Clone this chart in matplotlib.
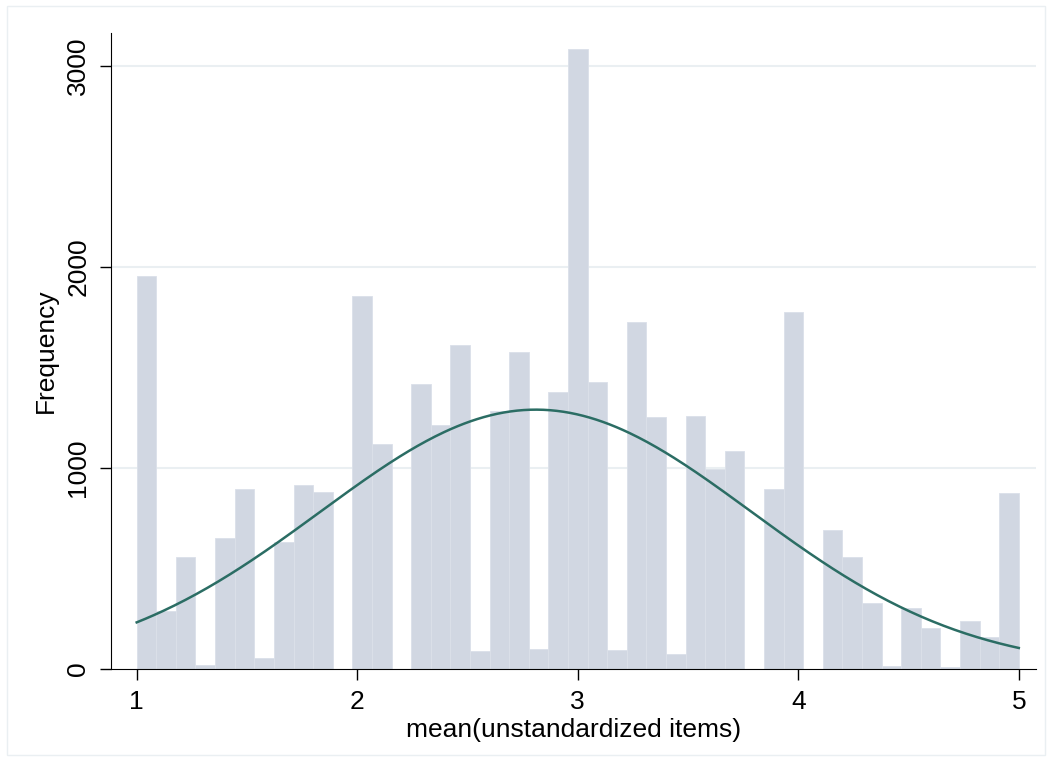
import matplotlib.pyplot as plt
import matplotlib.patches as mpatches
import numpy as np

plt.rcParams['font.family'] = ['Liberation Sans', 'DejaVu Sans']

# ------- histogram data (45 bins from 1 to 5) -------
bin_start = 1.0
bin_end = 5.0
n_bins = 45
counts = [1955, 291, 559, 19, 654, 893, 54, 631, 916, 882,
          0, 1856, 1121, 0, 1418, 1215, 1611, 90, 1282, 1578,
          98, 1376, 3084, 1427, 96, 1726, 1253, 73, 1257, 997,
          1087, 0, 897, 1775, 0, 693, 559, 327, 13, 302,
          203, 8, 241, 157, 874]

# fitted normal curve
mean_val = 2.81
sd_val = 0.977

y_ticks = [0, 1000, 2000, 3000]
x_ticks = [1, 2, 3, 4, 5]

bar_color = "#d1d7e2"
line_color = "#2b6d64"
grid_color = "#eaeff2"

edges = np.linspace(bin_start, bin_end, n_bins + 1)
width = edges[1] - edges[0]
total = sum(counts)

fig = plt.figure(figsize=(10.52, 7.64), dpi=100)
ax = fig.add_axes([111/1052, 95/764, (1036-111)/1052, (669-33)/764])

ax.bar(edges[:-1], counts, width=width, align='edge', color=bar_color,
       edgecolor="#dbe0e9", linewidth=0.6, zorder=2)

xs = np.linspace(bin_start, bin_end, 400)
ys = total * width / (sd_val * np.sqrt(2 * np.pi)) * np.exp(-0.5 * ((xs - mean_val) / sd_val) ** 2)
ax.plot(xs, ys, color=line_color, linewidth=1.8, zorder=3)

ax.set_xlim(0.8835, 5.078)
ax.set_ylim(0, 3164)
ax.set_yticks(y_ticks)
ax.set_xticks(x_ticks)
for t in y_ticks[1:]:
    ax.axhline(t, color=grid_color, linewidth=1.5, zorder=1)

ax.spines['top'].set_visible(False)
ax.spines['right'].set_visible(False)
ax.tick_params(axis='both', length=8, width=1, labelsize=19, pad=7)
ax.tick_params(axis='y', labelrotation=90)
plt.setp(ax.get_yticklabels(), va='center')

ax.set_xlabel('mean(unstandardized items)', fontsize=19, labelpad=3)
ax.set_ylabel('Frequency', fontsize=19, labelpad=6)

# faint outer frame of the graph region
fig.patches.append(mpatches.Rectangle((7/1052, 9/764), 1038/1052, 749/764,
                                      transform=fig.transFigure, fill=False,
                                      edgecolor=grid_color, linewidth=1))

plt.savefig('out.png', dpi=100)
